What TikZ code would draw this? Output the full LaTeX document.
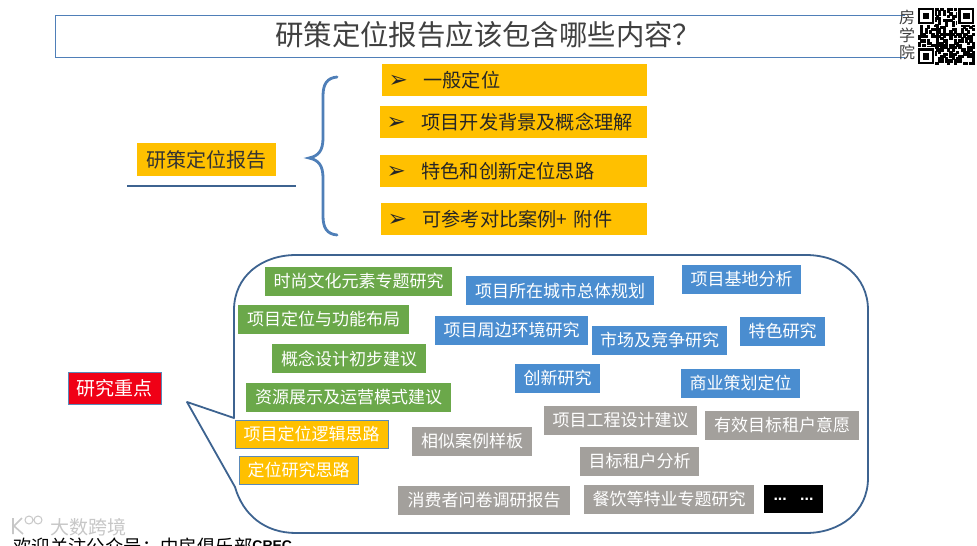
\documentclass[tikz,border=0pt]{standalone}
\usepackage{xcolor}
\usepackage{fontspec}
\usepackage{tikz}
\setmainfont{Liberation Sans}
\newfontfamily\cjk{Noto Sans CJK SC}
\newfontfamily\symfont{DejaVu Sans}
\definecolor{planblue}{HTML}{4A8DD0}
\definecolor{plangreen}{HTML}{6BA84A}
\definecolor{plangray}{HTML}{A3A09C}
\definecolor{planorange}{HTML}{FFC000}
\definecolor{planred}{HTML}{F00016}
\definecolor{planline}{HTML}{3D6390}
\definecolor{planbrace}{HTML}{4F7FB8}
\tikzset{
  tagbox/.style={rectangle, inner sep=0pt, align=center, minimum height=29pt, text=white, font=\cjk\fontsize{17}{20}\selectfont},
  greentag/.style={tagbox, fill=plangreen},
  bluetag/.style={tagbox, fill=planblue},
  graytag/.style={tagbox, fill=plangray},
  orangetag/.style={tagbox, fill=planorange, draw=planblue!70!gray, line width=1pt, minimum height=28pt},
  listbox/.style={rectangle, fill=planorange, minimum height=32pt, inner ysep=0pt, inner xsep=0pt, align=left, text=black!85, font=\cjk\fontsize{19.2}{22}\selectfont},
  bubble/.style={draw=planline, line width=1.8pt, line join=round},
  qrcell/.style={fill=black, draw=black, line width=0.1pt}
}
\newcommand{\listmark}{\makebox[37pt][l]{\hspace{2pt}\symfont\fontsize{23}{19}\selectfont ➢}}
\begin{document}
\begin{tikzpicture}[x=1pt, y=-1pt]
  \useasboundingbox (0,0) rectangle (977,546);
  \fill[white] (0,0) rectangle (977,546);

  % title
  \draw[planbrace, line width=1pt] (905,15) -- (55,15) -- (55,57) -- (905,57);
  \node[anchor=west, inner sep=0pt, font=\cjk\fontsize{28.4}{30}\selectfont, text=black!75] (title) at (275,35) {研策定位报告应该包含哪些内容？};
  \node[font=\cjk\fontsize{16}{18}\selectfont, text=black!75, align=center, inner sep=0pt] (school) at (907,35) {房\\[-0.5pt]学\\[-0.5pt]院};

  % qr code
  \pgfmathsetseed{31}
  \foreach \i in {0,...,24}{
    \foreach \j in {0,...,24}{
      \pgfmathparse{rnd>0.5 ? 1 : 0}
      \ifnum\pgfmathresult=1
        \fill[qrcell] (918+\i*2.24,8+\j*2.24) rectangle ++(2.24,2.24);
      \fi
    }
  }
  \foreach \fx/\fy in {918/8,958.3/8,918/48.3}{
    \fill[white] (\fx-1,\fy-1) rectangle ++(17.7,17.7);
    \fill[black] (\fx,\fy) rectangle ++(15.7,15.7);
    \fill[white] (\fx+2.2,\fy+2.2) rectangle ++(11.3,11.3);
    \fill[black] (\fx+4.5,\fy+4.5) rectangle ++(6.7,6.7);
  }

  % upper part
  \node[tagbox, fill=planorange, text=black!80, minimum width=139pt, minimum height=33pt, font=\cjk\fontsize{20}{22}\selectfont] (report) at (206.5,159.5) {研策定位报告};
  \coordinate (underl) at (127,186);
  \coordinate (underr) at (296,186);
  \draw[planline, line width=1.5pt] (underl) -- (underr);
  \node[listbox, minimum width=265pt, text width=256pt] (item1) at (514.5,80) {\listmark 一般定位};
  \node[listbox, minimum width=267pt, text width=258pt] (item2) at (513.5,122) {\listmark 项目开发背景及概念理解};
  \node[listbox, minimum width=267pt, text width=258pt] (item3) at (513.5,171) {\listmark 特色和创新定位思路};
  \node[listbox, minimum width=266pt, text width=257pt] (item4) at (514,219) {\listmark 可参考对比案例+ 附件};
  \draw[planbrace, line width=2.8pt, line cap=round] (337,77) .. controls (327,78) and (323,84) .. (323,96)
    -- (323,138) .. controls (323,150) and (319,156) .. (309,158)
    .. controls (319,160) and (323,166) .. (323,178)
    -- (323,216) .. controls (323,228) and (327,234) .. (337,235);

  % callout
  \coordinate (tip) at (187,402);
  \draw[bubble] (234,418) -- (234,310) .. controls (234,276) and (262,255) .. (296,255)
    -- (806,255) .. controls (840,255) and (868,276) .. (868,310)
    -- (868,478) .. controls (868,512) and (840,533) .. (806,533)
    -- (296,533) .. controls (265,533) and (243,515) .. (235,487) -- (tip) -- cycle;
  \node[tagbox, fill=planred, draw=planblue!70!gray, line width=1pt, minimum width=93pt, minimum height=32pt, font=\cjk\fontsize{19}{20}\selectfont] (focus) at (114.5,388.5) {研究重点};

  \node[greentag, minimum width=187pt] (fashion) at (358.5,281.5) {时尚文化元素专题研究};
  \node[greentag, minimum width=171pt] (layout) at (323.5,319.5) {项目定位与功能布局};
  \node[greentag, minimum width=154pt] (concept) at (349,358.5) {概念设计初步建议};
  \node[greentag, minimum width=205pt] (resource) at (348.5,397.5) {资源展示及运营模式建议};
  \node[orangetag, minimum width=153pt] (logic) at (311.5,434) {项目定位逻辑思路};
  \node[orangetag, minimum width=119pt] (idea) at (298.5,470) {定位研究思路};

  \node[bluetag, minimum width=188pt] (city) at (560,290.5) {项目所在城市总体规划};
  \node[bluetag, minimum width=119pt] (site) at (741.5,279.5) {项目基地分析};
  \node[bluetag, minimum width=153pt] (around) at (511.5,330.5) {项目周边环境研究};
  \node[bluetag, minimum width=135pt] (market) at (659.5,340.5) {市场及竞争研究};
  \node[bluetag, minimum width=85pt] (feature) at (782.5,331) {特色研究};
  \node[bluetag, minimum width=85pt] (innov) at (557.5,378.5) {创新研究};
  \node[bluetag, minimum width=119pt] (plan) at (740.5,383.5) {商业策划定位};

  \node[graytag, minimum width=153pt] (design) at (620.5,420.5) {项目工程设计建议};
  \node[graytag, minimum width=154pt] (intent) at (782,425.5) {有效目标租户意愿};
  \node[graytag, minimum width=120pt] (sample) at (472,441.5) {相似案例样板};
  \node[graytag, minimum width=119pt] (tenant) at (639.5,461.5) {目标租户分析};
  \node[graytag, minimum width=172pt] (survey) at (484,500.5) {消费者问卷调研报告};
  \node[graytag, minimum width=170pt] (dining) at (669,499.5) {餐饮等特业专题研究};
  \node[tagbox, fill=black, minimum width=59pt, minimum height=28pt, font=\bfseries\fontsize{16}{16}\selectfont] (more) at (793.5,499) {...\ \ \ ...};

  % footer
  \node[anchor=west, inner sep=0pt, text=black, font=\cjk\fontsize{18.4}{20}\selectfont] (footer) at (13,546) {欢迎关注公众号：中房俱乐部\raisebox{3pt}{\normalfont\bfseries\fontsize{14}{15}\selectfont CREC}};
  \node[anchor=west, inner sep=0pt, text=black!22, font=\cjk\fontsize{19}{20}\selectfont] (mark) at (50,527) {大数跨境};
  \draw[black!22, line width=1.6pt] (13,518) -- (13,534) (22,518) -- (14,526) -- (23,534);
  \draw[black!22, line width=1pt] (29,520) circle (4pt) (38,520) circle (4pt);
\end{tikzpicture}
\end{document}
